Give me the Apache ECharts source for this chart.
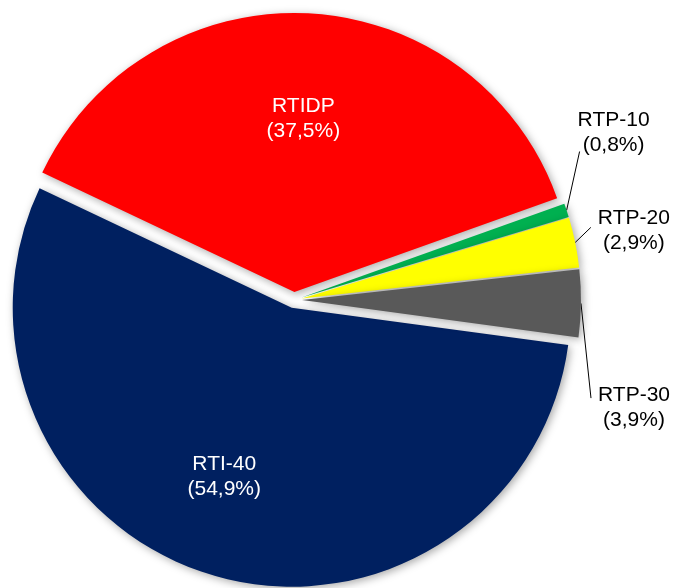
<!DOCTYPE html>
<html>
<head>
<meta charset="utf-8">
<script src="https://cdn.jsdelivr.net/npm/echarts@6/dist/echarts.min.js"></script>
<style>
  html, body { margin: 0; padding: 0; background: #fff; }
  #chart { width: 674px; height: 588px; }
</style>
</head>
<body>
<div id="chart"></div>
<script>
// data
const categories = ["RTI-40", "RTIDP", "RTP-10", "RTP-20", "RTP-30"];
const shares = [54.9, 37.5, 0.8, 2.9, 3.9];

const colors = ["#002060", "#FF0000", "#00B050", "#FFFF00", "#595959"];
const font = "'Liberation Sans', Arial, sans-serif";

// where the callout labels of the thin slices sit (text centre), and where their leader lines end
const calloutPos = { 2: [616, 132], 3: [636, 229], 4: [636, 405] };
const leaderEnd = { 2: [572, 154], 3: [583, 229], 4: [583, 398] };
// small nudges for the two labels inside the big slices
const innerNudge = { 0: [-16, -4], 1: [0, 7] };

const fmt = (p) => p.name + "\n(" + p.value.toFixed(1).replace(".", ",") + "%)";

const center = [294, 300];
const startAngle = -7.7;

const chart = echarts.init(document.getElementById("chart"));
chart.setOption({
  animation: false,
  series: [
    {
      type: "pie",
      center: center,
      radius: [0, 279],
      startAngle: startAngle,
      clockwise: true,
      selectedMode: "multiple",
      selectedOffset: 8,
      avoidLabelOverlap: false,
      emphasis: { disabled: true },
      itemStyle: {
        shadowBlur: 8,
        shadowColor: "rgba(0,0,0,0.35)",
        shadowOffsetX: 2,
        shadowOffsetY: 2,
      },
      label: {
        color: "#000",
        fontFamily: font,
        fontSize: 21,
        lineHeight: 25,
        overflow: "none",
        formatter: fmt,
      },
      labelLine: { length: 10, length2: 10, lineStyle: { color: "#000", width: 1 } },
      labelLayout: (p) => {
        const pos = calloutPos[p.dataIndex];
        if (!pos) return {};
        const r = p.labelRect;
        const out = {
          align: "center",
          dx: pos[0] - r.x - 10,
          dy: pos[1] - (r.y + r.height / 2) + 3,
        };
        if (p.labelLinePoints) {
          out.labelLinePoints = [p.labelLinePoints[0], leaderEnd[p.dataIndex]];
        }
        return out;
      },
      data: categories.map((name, i) => ({
        name: name,
        value: shares[i],
        selected: true,
        itemStyle: { color: colors[i] },
        label: { show: i >= 2 },
        labelLine: { show: i >= 2 },
      })),
    },
    {
      // transparent copy, only carries the white labels of the two big slices
      type: "pie",
      center: center,
      radius: [100, 256],
      startAngle: startAngle,
      clockwise: true,
      selectedMode: "multiple",
      selectedOffset: 8,
      silent: true,
      emphasis: { disabled: true },
      itemStyle: { color: "rgba(0,0,0,0)" },
      label: {
        position: "inside",
        color: "#fff",
        fontFamily: font,
        fontSize: 21,
        lineHeight: 25,
        formatter: fmt,
      },
      labelLine: { show: false },
      labelLayout: (p) => {
        const n = innerNudge[p.dataIndex];
        return n ? { dx: n[0], dy: n[1] } : {};
      },
      data: categories.map((name, i) => ({
        name: name,
        value: shares[i],
        selected: true,
        label: { show: i < 2 },
      })),
    },
  ],
});
</script>
</body>
</html>
